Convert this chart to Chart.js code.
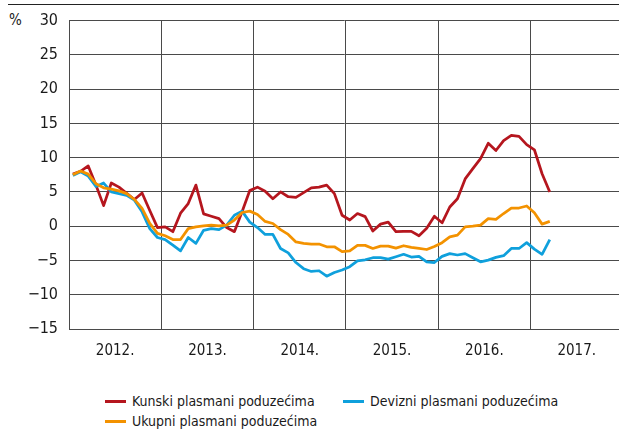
<!DOCTYPE html>
<html>
<head>
<meta charset="utf-8">
<script src="https://cdn.jsdelivr.net/npm/chart.js@4"></script>
<style>
  html, body { margin: 0; padding: 0; background: #fff; }
  #wrap {
    position: relative; width: 619px; height: 430px; overflow: hidden;
    font-family: "Liberation Sans Narrow", "Arial Narrow", "DejaVu Sans Condensed", sans-serif;
    color: #1a1a1a;
  }
  #rule { position: absolute; left: 8px; top: 4px; width: 611px; border-top: 1px solid #222; }
  #unit { position: absolute; left: 9px; top: 11px; font-size: 15px; }
  #chartBox { position: absolute; left: 0; top: 0; width: 619px; height: 370px; }
  #legend { position: absolute; left: 105px; top: 391px; width: 510px; height: 40px; }
  .item { position: absolute; display: flex; align-items: center; font-size: 14px; white-space: nowrap; line-height: 20px; }
  .swatch { width: 21px; height: 3px; margin-right: 6px; }
</style>
</head>
<body>
<div id="wrap">
  <div id="rule"></div>
  <div id="unit">%</div>
  <div id="chartBox"><canvas id="c"></canvas></div>
  <div id="legend"></div>
</div>
<script>
// Annual growth rates of loans to enterprises, monthly, Jan 2012 – Mar 2017
const yearLabels = ['2012.', '2013.', '2014.', '2015.', '2016.', '2017.'];
const yTicks = [-15, -10, -5, 0, 5, 10, 15, 20, 25, 30];

const kunski = [
  7.6, 8.0, 8.8, 6.0, 3.0, 6.3, 5.7, 4.8, 3.9, 4.85, 2.3, -0.2,
  -0.1, -0.8, 1.9, 3.3, 6.0, 1.8, 1.45, 1.1, -0.2, -0.8, 2.1, 5.2,
  5.7, 5.1, 4.0, 5.0, 4.3, 4.2, 4.9, 5.6, 5.7, 6.0, 4.75, 1.6,
  0.9, 1.85, 1.4, -0.7, 0.3, 0.6, -0.8, -0.75, -0.75, -1.4, -0.3, 1.45,
  0.5, 2.8, 4.0, 6.9, 8.4, 9.85, 12.1, 11.05, 12.5, 13.25, 13.1, 11.9,
  11.15, 7.65, 5.0
];
const devizni = [
  7.4, 7.95, 7.3, 5.8, 6.3, 5.0, 4.75, 4.5, 3.8, 2.1, -0.35, -1.65,
  -1.95, -2.75, -3.6, -1.65, -2.5, -0.6, -0.35, -0.5, 0.15, 1.6, 2.2, 0.6,
  -0.2, -1.2, -1.2, -3.25, -3.9, -5.3, -6.2, -6.6, -6.5, -7.3, -6.75, -6.4,
  -5.9, -5.05, -4.9, -4.6, -4.6, -4.8, -4.45, -4.1, -4.5, -4.4, -5.2, -5.3,
  -4.4, -4.0, -4.2, -4.0, -4.6, -5.2, -4.95, -4.55, -4.3, -3.25, -3.25, -2.4,
  -3.35, -4.1, -1.95
];
const ukupni = [
  7.5, 8.05, 7.6, 6.2, 5.6, 5.4, 5.15, 4.75, 3.9, 2.6, 0.4, -1.05,
  -1.4, -1.95, -1.95, -0.35, -0.1, 0.05, 0.15, 0.05, 0.15, 0.9, 2.0, 2.2,
  1.7, 0.7, 0.4, -0.5, -1.2, -2.3, -2.5, -2.6, -2.6, -3.0, -3.0, -3.7,
  -3.6, -2.8, -2.8, -3.25, -2.9, -2.9, -3.2, -2.85, -3.1, -3.25, -3.4, -2.95,
  -2.4, -1.55, -1.3, -0.1, 0.0, 0.15, 1.1, 1.0, 1.85, 2.65, 2.65, 2.95,
  1.95, 0.3, 0.7
];

const seriesNames = ['Kunski plasmani poduzećima', 'Devizni plasmani poduzećima', 'Ukupni plasmani poduzećima'];
const seriesColors = ['#b5161e', '#0fa0dc', '#f39200'];

const FONT = '"Liberation Sans Narrow", "Arial Narrow", "DejaVu Sans Condensed", sans-serif';
const gridColor = '#4a4a4a';
const textColor = '#1a1a1a';

// each month sits in the middle of its slot on a month-based x scale
const toPoints = arr => arr.map((v, i) => ({ x: i + 0.5, y: v }));
const xTickValues = yearLabels.flatMap((_, k) => [12 * k, 12 * k + 6]);

// HTML legend laid out in two columns
const legendSlots = [{ left: 0, top: 0 }, { left: 238, top: 0 }, { left: 0, top: 20 }];
const htmlLegend = {
  id: 'htmlLegend',
  afterUpdate(chart) {
    const box = document.getElementById('legend');
    box.innerHTML = '';
    chart.data.datasets.forEach((ds, i) => {
      const item = document.createElement('div');
      item.className = 'item';
      item.style.left = legendSlots[i].left + 'px';
      item.style.top = legendSlots[i].top + 'px';
      const sw = document.createElement('span');
      sw.className = 'swatch';
      sw.style.background = ds.borderColor;
      const tx = document.createElement('span');
      tx.textContent = ds.label;
      item.appendChild(sw);
      item.appendChild(tx);
      box.appendChild(item);
    });
  }
};

const datasets = [kunski, devizni, ukupni].map((arr, i) => ({
  label: seriesNames[i],
  data: toPoints(arr),
  borderColor: seriesColors[i],
  backgroundColor: seriesColors[i],
  borderWidth: 2.75,
  pointRadius: 0,
  tension: 0,
  borderJoinStyle: 'round',
  order: 2 - i
}));

new Chart(document.getElementById('c'), {
  type: 'line',
  data: { datasets },
  plugins: [htmlLegend],
  options: {
    responsive: true,
    maintainAspectRatio: false,
    animation: false,
    layout: { padding: { top: 20, right: 0, bottom: 0, left: 0 } },
    plugins: { legend: { display: false }, tooltip: { enabled: false } },
    scales: {
      x: {
        type: 'linear',
        min: 0,
        max: 71.5,
        afterBuildTicks: s => { s.ticks = xTickValues.map(v => ({ value: v })); },
        afterFit: s => { s.height = 41; },
        ticks: {
          autoSkip: false,
          maxRotation: 0,
          padding: 13,
          color: textColor,
          font: { family: FONT, size: 15 },
          callback: v => (v % 12 === 6 ? yearLabels[(v - 6) / 12] : '')
        },
        grid: {
          drawTicks: false,
          lineWidth: 1,
          color: ctx => (ctx.tick && ctx.tick.value % 12 === 0 ? gridColor : 'rgba(0,0,0,0)')
        },
        border: { display: true, color: gridColor, width: 1 }
      },
      y: {
        min: yTicks[0],
        max: yTicks[yTicks.length - 1],
        afterBuildTicks: s => { s.ticks = yTicks.map(v => ({ value: v })); },
        afterFit: s => { s.width = 69; },
        ticks: {
          padding: 11,
          color: textColor,
          font: { family: FONT, size: 16 },
          callback: v => (v < 0 ? '\u2212' + Math.abs(v) : String(v))
        },
        grid: { drawTicks: false, lineWidth: 1, color: gridColor },
        border: { display: true, color: gridColor, width: 1 }
      }
    }
  }
});
</script>
</body>
</html>
